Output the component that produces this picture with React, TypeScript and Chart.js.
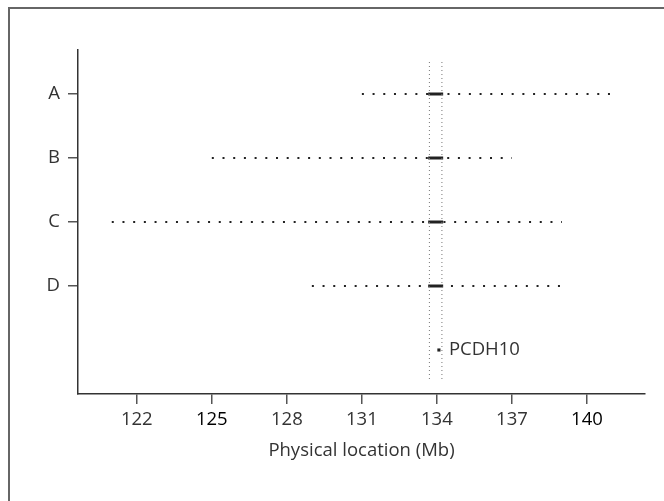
import React, { useEffect, useRef } from 'react';
import { Chart, registerables } from 'chart.js';

Chart.register(...registerables);

// ---- data ----
const ROW_LABELS = ['A', 'B', 'C', 'D'];
const ROW_POS = [1, 2, 3, 4];
const ROW_START = [131, 125, 121, 129];
const ROW_END = [141, 137, 139, 139];
const PEAK_START = [133.65, 133.65, 133.65, 133.65];
const PEAK_END = [134.25, 134.25, 134.25, 134.25];
const BOUNDARIES = [133.7, 134.2];
const BOUNDARY_SPAN = [0.5, 5.5];
const GENE_X = 134.08;
const GENE_Y = 5;
const GENE_LABEL = 'PCDH10';
const X_TICKS = [122, 125, 128, 131, 134, 137, 140];
const DARK_TICKS = [125, 140];
const X_TITLE = 'Physical location (Mb)';
const X_MIN = 119.65;
const X_MAX = 142.32;
const Y_MIN = 0.3125;
const Y_MAX = 5.6875;

const FONT = 'Open Sans';
const FS = 18.5;
const TEXT = '#333';

const geneLabel = {
  id: 'geneLabel',
  afterDatasetsDraw(chart: any) {
    const { ctx, scales } = chart;
    const x = scales.x;
    const y = scales.y;
    ctx.save();
    ctx.font = `${FS}px "${FONT}"`;
    ctx.fillStyle = TEXT;
    ctx.textBaseline = 'middle';
    ctx.textAlign = 'left';
    ctx.fillText(GENE_LABEL, x.getPixelForValue(GENE_X) + 10, y.getPixelForValue(GENE_Y));
    ctx.restore();
  },
};

export default function App() {
  const ref = useRef<HTMLCanvasElement | null>(null);

  useEffect(() => {
    if (!ref.current) return;
    const datasets: any[] = [];
    ROW_POS.forEach((r, i) => {
      datasets.push({
        type: 'line',
        data: [
          { x: ROW_START[i], y: r },
          { x: ROW_END[i], y: r },
        ],
        borderColor: '#222',
        borderWidth: 2,
        borderDash: [2, 8.7],
        borderCapStyle: 'butt',
        pointRadius: 0,
        fill: false,
      });
    });
    BOUNDARIES.forEach((b) => {
      datasets.push({
        type: 'line',
        data: [
          { x: b, y: BOUNDARY_SPAN[0] },
          { x: b, y: BOUNDARY_SPAN[1] },
        ],
        borderColor: '#777',
        borderWidth: 1,
        borderDash: [1, 3],
        pointRadius: 0,
        fill: false,
      });
    });
    ROW_POS.forEach((r, i) => {
      datasets.push({
        type: 'line',
        data: [
          { x: PEAK_START[i], y: r },
          { x: PEAK_END[i], y: r },
        ],
        borderColor: '#222',
        borderWidth: 3,
        pointRadius: 0,
        fill: false,
      });
    });
    datasets.push({
      type: 'scatter',
      data: [{ x: GENE_X, y: GENE_Y }],
      pointStyle: 'rect',
      pointRadius: 2.2,
      backgroundColor: '#222',
      borderColor: '#222',
      borderWidth: 0,
    });

    const chart = new Chart(ref.current, {
      type: 'line',
      data: { datasets },
      plugins: [geneLabel],
      options: {
        animation: false,
        responsive: false,
        devicePixelRatio: 1,
        layout: { padding: { left: 0, top: 50, right: 19, bottom: 35 } },
        plugins: { legend: { display: false }, tooltip: { enabled: false } },
        scales: {
          x: {
            type: 'linear',
            min: X_MIN,
            max: X_MAX,
            afterBuildTicks: (s: any) => {
              s.ticks = X_TICKS.map((v) => ({ value: v }));
            },
            afterFit: (s: any) => {
              s.height = 72;
            },
            grid: { drawOnChartArea: false, tickLength: 10, color: '#555', lineWidth: 1.5 },
            border: { color: '#333', width: 1.5 },
            ticks: {
              font: { family: FONT, size: FS },
              color: (c: any) => (c.tick && DARK_TICKS.includes(c.tick.value) ? '#000' : TEXT),
              padding: 5,
              maxRotation: 0,
              callback: (v: any) => String(v),
            },
            title: {
              display: true,
              text: X_TITLE,
              font: { family: FONT, size: FS },
              color: TEXT,
              padding: { top: 4, bottom: 4 },
            },
          },
          y: {
            type: 'linear',
            min: Y_MIN,
            max: Y_MAX,
            reverse: true,
            afterBuildTicks: (s: any) => {
              s.ticks = ROW_POS.map((v) => ({ value: v }));
            },
            afterFit: (s: any) => {
              s.width = 78;
            },
            grid: { drawOnChartArea: false, tickLength: 10, color: '#555', lineWidth: 1.5 },
            border: { color: '#333', width: 1.5 },
            ticks: {
              font: { family: FONT, size: FS },
              color: TEXT,
              padding: 8,
              callback: (v: any) => ROW_LABELS[ROW_POS.indexOf(v)] ?? '',
            },
          },
        },
      },
    } as any);
    return () => chart.destroy();
  }, []);

  return (
    <div style={{ position: 'fixed', left: 0, top: 0, width: 664, height: 501, background: '#fff', overflow: 'hidden' }}>
      <div
        style={{
          position: 'absolute',
          left: 8,
          top: 7,
          width: 700,
          height: 600,
          borderTop: '2px solid #666',
          borderLeft: '2px solid #666',
        }}
      />
      <canvas ref={ref} width={664} height={501} style={{ position: 'absolute', left: 0, top: 0 }} />
    </div>
  );
}
